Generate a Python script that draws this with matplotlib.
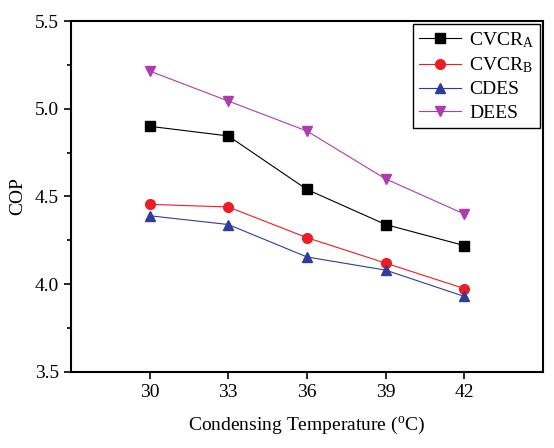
import matplotlib
matplotlib.use("Agg")
import matplotlib.pyplot as plt
from matplotlib.ticker import MultipleLocator

plt.rcParams['font.family'] = ['Liberation Serif', 'DejaVu Serif']
plt.rcParams['mathtext.fontset'] = 'custom'
plt.rcParams['mathtext.rm'] = 'Liberation Serif'
plt.rcParams['mathtext.it'] = 'Liberation Serif'

temps = [30, 33, 36, 39, 42]
cvcr_a = [4.90, 4.845, 4.54, 4.34, 4.22]
cvcr_b = [4.455, 4.44, 4.265, 4.12, 3.975]
cdes = [4.39, 4.34, 4.155, 4.08, 3.93]
dees = [5.215, 5.044, 4.873, 4.60, 4.40]

labels = [r'CVCR$_\mathregular{A}$', r'CVCR$_\mathregular{B}$', 'CDES', 'DEES']
colors = ['#000000', '#ee1c25', '#2e3d9c', '#b03ab0']
markers = ['s', 'o', '^', 'v']

fig = plt.figure(figsize=(5.54, 4.48), dpi=100)
ax = fig.add_axes([0.128, 0.170, 0.852, 0.783])

for vals, lab, c, m in zip([cvcr_a, cvcr_b, cdes, dees], labels, colors, markers):
    ax.plot(temps, vals, color=c, marker=m, markersize=7, linewidth=0.8, label=lab)

ax.set_xlim(27, 45)
ax.set_ylim(3.5, 5.5)
ax.set_xticks(temps)
ax.yaxis.set_major_locator(MultipleLocator(0.5))
ax.yaxis.set_minor_locator(MultipleLocator(0.25))
ax.yaxis.set_major_formatter(matplotlib.ticker.FormatStrFormatter('%.1f'))
ax.tick_params(axis='both', which='major', direction='out', length=5, width=1.2, labelsize=14)
ax.tick_params(axis='y', which='minor', direction='out', length=3, width=1.2)
for s in ax.spines.values():
    s.set_linewidth(1.5)

ax.set_xlabel(r'Condensing Temperature ($\mathregular{^o}$C)', fontsize=14, labelpad=10)
ax.set_ylabel('COP', fontsize=14, labelpad=6)

leg = ax.legend(loc='upper right', fontsize=14, fancybox=False, edgecolor='black',
                framealpha=1, handlelength=2.2, handletextpad=0.4, borderaxespad=0.15,
                borderpad=0.3, labelspacing=0.3)
leg.get_frame().set_linewidth(1.0)

plt.savefig('out.png', dpi=100)
